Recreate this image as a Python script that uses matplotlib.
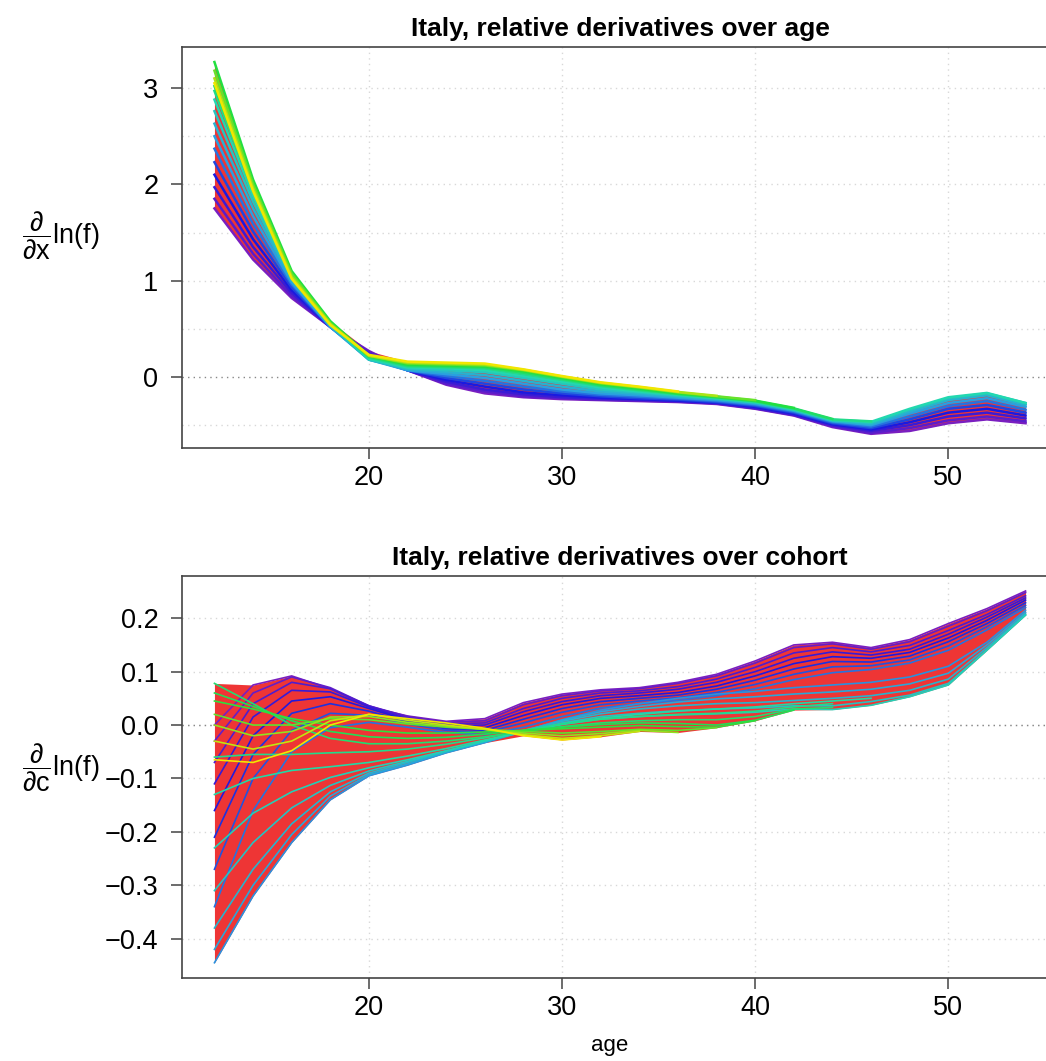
import numpy as np
import matplotlib
matplotlib.use("Agg")
import matplotlib.pyplot as plt
from matplotlib.colors import LinearSegmentedColormap

plt.rcParams["font.family"] = ["Liberation Sans", "DejaVu Sans"]
plt.rcParams["mathtext.fontset"] = "custom"
plt.rcParams["mathtext.rm"] = "Liberation Sans"
plt.rcParams["mathtext.it"] = "Liberation Sans"
plt.rcParams["mathtext.bf"] = "Liberation Sans:bold"

N = None
ages = [12, 14, 16, 18, 20, 22, 24, 26, 28, 30, 32, 34, 36, 38, 40, 42, 44, 46, 48, 50, 52, 54]

# relative derivative over age, one row per cohort (oldest -> youngest)
age_deriv = [
    [1.75, 1.22, 0.82, 0.52, 0.27, 0.07, -0.08, -0.17, -0.21, -0.23, -0.24, -0.25, -0.26, -0.28, -0.33, -0.40, -0.52, -0.59, -0.56, -0.48, -0.44, -0.48],
    [1.85, 1.28, 0.84, 0.52, 0.26, 0.07, -0.07, -0.15, -0.20, -0.22, -0.235, -0.245, -0.255, -0.275, -0.325, -0.395, -0.51, -0.58, -0.53, -0.45, -0.41, -0.46],
    [1.97, 1.35, 0.87, 0.52, 0.24, 0.07, -0.05, -0.13, -0.18, -0.21, -0.225, -0.235, -0.25, -0.27, -0.32, -0.39, -0.50, -0.56, -0.50, -0.41, -0.37, -0.43],
    [2.10, 1.43, 0.90, 0.52, 0.22, 0.07, -0.03, -0.10, -0.16, -0.19, -0.215, -0.23, -0.245, -0.265, -0.31, -0.38, -0.49, -0.545, -0.47, -0.37, -0.33, -0.40],
    [2.23, 1.51, 0.93, 0.52, 0.20, 0.07, -0.01, -0.07, -0.13, -0.17, -0.20, -0.22, -0.235, -0.26, -0.30, -0.37, -0.48, -0.53, -0.44, -0.33, -0.29, -0.37],
    [2.37, 1.59, 0.96, 0.52, 0.19, 0.07, 0.01, -0.04, -0.10, -0.15, -0.185, -0.205, -0.225, -0.25, -0.29, -0.36, -0.47, -0.515, -0.41, -0.30, -0.25, -0.34],
    [2.50, 1.67, 0.98, 0.52, 0.18, 0.07, 0.03, -0.01, -0.07, -0.13, -0.17, -0.19, -0.215, -0.24, -0.28, -0.35, -0.46, -0.50, -0.38, -0.27, -0.22, -0.31],
    [2.63, 1.75, 1.00, 0.53, 0.18, 0.08, 0.05, 0.02, -0.04, -0.10, -0.15, -0.175, -0.205, -0.23, -0.27, -0.345, -0.455, -0.49, -0.36, -0.24, -0.19, -0.29],
    [2.76, 1.82, 1.02, 0.54, 0.18, 0.09, 0.07, 0.05, -0.01, -0.07, -0.13, -0.16, -0.195, -0.225, -0.265, -0.34, -0.45, -0.475, -0.34, -0.22, -0.17, -0.27],
    [2.88, 1.88, 1.04, 0.55, 0.19, 0.10, 0.09, 0.07, 0.01, -0.05, -0.11, -0.15, -0.185, -0.22, -0.26, -0.335, -0.445, -0.465, -0.33, -0.21, -0.165, -0.27],
    [2.97, 1.93, 1.06, 0.56, 0.20, 0.11, 0.10, 0.09, 0.03, -0.03, -0.095, -0.14, -0.18, -0.215, -0.255, -0.33, -0.44, -0.46, N, N, N, N],
    [3.02, 1.97, 1.08, 0.57, 0.21, 0.12, 0.11, 0.10, 0.045, -0.02, -0.085, -0.13, -0.175, -0.21, -0.25, -0.325, -0.435, N, N, N, N, N],
    [3.27, 2.05, 1.10, 0.58, 0.22, 0.13, 0.12, 0.11, 0.06, -0.01, -0.075, -0.12, -0.17, -0.205, -0.245, -0.32, N, N, N, N, N, N],
    [3.18, 2.00, 1.07, 0.56, 0.22, 0.14, 0.13, 0.12, 0.07, 0.0, -0.065, -0.11, -0.16, -0.20, -0.24, N, N, N, N, N, N, N],
    [3.10, 1.96, 1.04, 0.55, 0.22, 0.15, 0.14, 0.13, 0.075, 0.005, -0.06, -0.105, -0.155, -0.195, N, N, N, N, N, N, N, N],
    [3.05, 1.93, 1.02, 0.54, 0.23, 0.16, 0.15, 0.14, 0.08, 0.01, -0.055, -0.10, -0.15, N, N, N, N, N, N, N, N, N],
]

# relative derivative over cohort, one row per cohort (oldest -> youngest)
cohort_deriv = [
    [0.00, 0.075, 0.092, 0.068, 0.034, 0.017, 0.007, 0.012, 0.042, 0.058, 0.066, 0.07, 0.08, 0.095, 0.12, 0.15, 0.155, 0.145, 0.16, 0.19, 0.218, 0.251],
    [-0.03, 0.06, 0.09, 0.07, 0.036, 0.016, 0.005, 0.008, 0.038, 0.055, 0.064, 0.068, 0.078, 0.092, 0.116, 0.145, 0.152, 0.142, 0.156, 0.185, 0.214, 0.248],
    [-0.07, 0.04, 0.08, 0.068, 0.036, 0.014, 0.002, 0.004, 0.031, 0.05, 0.06, 0.064, 0.072, 0.086, 0.108, 0.135, 0.145, 0.137, 0.149, 0.177, 0.207, 0.242],
    [-0.11, 0.015, 0.065, 0.062, 0.034, 0.011, -0.001, 0.0, 0.025, 0.044, 0.055, 0.06, 0.067, 0.08, 0.1, 0.125, 0.137, 0.131, 0.142, 0.17, 0.202, 0.238],
    [-0.16, -0.02, 0.045, 0.053, 0.031, 0.009, -0.004, -0.005, 0.018, 0.038, 0.05, 0.055, 0.061, 0.073, 0.092, 0.115, 0.128, 0.125, 0.136, 0.163, 0.196, 0.234],
    [-0.21, -0.055, 0.022, 0.04, 0.026, 0.006, -0.007, -0.01, 0.011, 0.031, 0.044, 0.05, 0.056, 0.067, 0.084, 0.105, 0.119, 0.118, 0.129, 0.156, 0.19, 0.229],
    [-0.27, -0.10, -0.01, 0.022, 0.018, 0.002, -0.01, -0.014, 0.004, 0.024, 0.038, 0.045, 0.051, 0.061, 0.076, 0.095, 0.109, 0.111, 0.122, 0.148, 0.184, 0.224],
    [-0.34, -0.16, -0.05, -0.005, 0.005, -0.004, -0.014, -0.018, -0.004, 0.016, 0.032, 0.04, 0.046, 0.055, 0.068, 0.085, 0.098, 0.104, 0.116, 0.14, 0.178, 0.22],
    [-0.445, -0.32, -0.22, -0.14, -0.095, -0.075, -0.052, -0.033, -0.012, 0.01, 0.028, 0.04, 0.05, 0.058, 0.063, 0.07, 0.075, 0.08, 0.09, 0.11, 0.155, 0.215],
    [-0.42, -0.30, -0.205, -0.133, -0.093, -0.073, -0.051, -0.032, -0.011, 0.009, 0.025, 0.035, 0.043, 0.049, 0.053, 0.058, 0.062, 0.067, 0.077, 0.097, 0.15, 0.211],
    [-0.38, -0.27, -0.185, -0.125, -0.09, -0.07, -0.05, -0.03, -0.01, 0.007, 0.021, 0.03, 0.036, 0.04, 0.042, 0.046, 0.05, 0.055, 0.065, 0.086, 0.145, 0.208],
    [-0.31, -0.22, -0.155, -0.113, -0.086, -0.068, -0.049, -0.03, -0.012, 0.004, 0.016, 0.022, 0.027, 0.03, 0.032, 0.036, 0.036, 0.044, 0.056, 0.078, 0.141, 0.206],
    [-0.23, -0.165, -0.125, -0.098, -0.08, -0.065, -0.048, -0.03, -0.013, 0.001, 0.011, 0.016, 0.019, 0.021, 0.024, 0.03, 0.029, 0.037, 0.053, 0.075, 0.14, 0.206],
    [-0.13, -0.10, -0.085, -0.078, -0.07, -0.058, -0.044, -0.028, -0.012, 0.002, 0.013, 0.02, 0.026, 0.03, 0.034, 0.04, 0.045, 0.05, N, N, N, N],
    [-0.06, -0.055, -0.055, -0.052, -0.05, -0.045, -0.036, -0.024, -0.01, 0.002, 0.011, 0.016, 0.02, 0.022, 0.026, 0.034, 0.04, N, N, N, N, N],
    [0.078, 0.04, 0.0, -0.025, -0.035, -0.035, -0.03, -0.022, -0.012, -0.003, 0.004, 0.008, 0.01, 0.01, 0.016, 0.03, 0.033, N, N, N, N, N],
    [0.06, 0.035, 0.008, -0.012, -0.022, -0.025, -0.023, -0.017, -0.01, -0.004, 0.001, 0.004, 0.003, 0.0, 0.009, 0.028, N, N, N, N, N, N],
    [0.045, 0.03, 0.012, 0.0, -0.01, -0.015, -0.015, -0.013, -0.01, -0.007, -0.004, -0.001, -0.003, -0.004, 0.008, N, N, N, N, N, N, N],
    [0.02, 0.0, 0.0, 0.012, 0.01, 0.002, -0.004, -0.008, -0.012, -0.015, -0.012, -0.008, -0.01, -0.005, N, N, N, N, N, N, N, N],
    [0.0, -0.02, -0.012, 0.015, 0.016, 0.005, -0.002, -0.008, -0.015, -0.02, -0.016, -0.01, -0.014, N, N, N, N, N, N, N, N, N],
    [-0.03, -0.045, -0.03, 0.008, 0.02, 0.009, 0.0, -0.008, -0.018, -0.025, -0.02, -0.012, N, N, N, N, N, N, N, N, N, N],
    [-0.065, -0.07, -0.048, 0.0, 0.02, 0.012, 0.004, -0.006, -0.02, -0.028, -0.022, N, N, N, N, N, N, N, N, N, N, N],
]

top_yticks = [0, 1, 2, 3]
top_grid = [-0.5, 0.5, 1.0, 1.5, 2.0, 2.5, 3.0]
bot_yticks = [-0.4, -0.3, -0.2, -0.1, 0.0, 0.1, 0.2]
xticks = [20, 30, 40, 50]

FILL = "#EE3535"
cmap = LinearSegmentedColormap.from_list(
    "coh", ["#7A1FC0", "#1A1AE0", "#2A9FE0", "#22D8B0", "#22E040", "#F2E600"])

W, H = 1046, 1061
fig = plt.figure(figsize=(W / 100, H / 100), dpi=100)

# the plotting region runs past the right edge of the picture (cropped),
# so the axes stop at the figure edge with a matching x range
PX_PER_YEAR = 876 / 45.36
X_LEFT = 10.32
X_RIGHT = X_LEFT + (W - 182) / PX_PER_YEAR
TITLE_X = (620 - 182) / (W - 182)


def panel(rect, rows, ylim, yticks, ylabels, hgrid, title, lw):
    ax = fig.add_axes(rect)
    arr = np.array(rows, dtype=float)
    x = np.array(ages, dtype=float)
    ax.set_xlim(X_LEFT, X_RIGHT)
    ax.set_ylim(*ylim)
    for g in hgrid:
        ax.axhline(g, color="#D8D8D8", lw=1, ls=(0, (1, 3)), zorder=0)
    for g in xticks:
        ax.axvline(g, color="#D8D8D8", lw=1, ls=(0, (1, 3)), zorder=0)
    ax.axhline(0, color="#888888", lw=1, ls=(0, (1, 3)), zorder=0.5)
    lo = np.nanmin(arr, axis=0)
    hi = np.nanmax(arr, axis=0)
    ax.fill_between(x, lo, hi, color=FILL, lw=0, zorder=1)
    n = len(arr)
    for i, row in enumerate(arr):
        ax.plot(x, row, color=cmap(i / (n - 1)), lw=lw, zorder=2)
    ax.set_xticks(xticks)
    ax.set_xticklabels([str(t) for t in xticks])
    ax.set_yticks(yticks)
    ax.set_yticklabels(ylabels)
    ax.tick_params(labelsize=19.5, length=8, width=1.1, color="#444444")
    ax.tick_params(axis="x", pad=4.5)
    ax.tick_params(axis="y", pad=9)
    for s in ax.spines.values():
        s.set_color("#444444")
        s.set_linewidth(1.2)
    ax.spines["right"].set_visible(False)
    ax.set_title(title, fontsize=19, fontweight="bold", pad=8, x=TITLE_X)
    return ax


ax1 = panel([182 / W, 1 - 448 / H, (W - 182) / W, 401 / H], age_deriv,
            (-0.737, 3.426), top_yticks, ["0", "1", "2", "3"], top_grid,
            "Italy, relative derivatives over age", 1.8)
ax2 = panel([182 / W, 1 - 977.7 / H, (W - 182) / W, 402 / H], cohort_deriv,
            (-0.473, 0.2796), bot_yticks,
            ["\u22120.4", "\u22120.3", "\u22120.2", "\u22120.1", "0.0", "0.1", "0.2"],
            bot_yticks, "Italy, relative derivatives over cohort", 1.2)

fig.text(61 / W, 1 - 236 / H, r"$\dfrac{\partial}{\partial x}\mathrm{ln(f)}$",
         fontsize=19.5, ha="center", va="center")
fig.text(61 / W, 1 - 768 / H, r"$\dfrac{\partial}{\partial c}\mathrm{ln(f)}$",
         fontsize=19.5, ha="center", va="center")
fig.text(610 / W, 1 - 1045 / H, "age", fontsize=16, ha="center", va="center")

fig.savefig("out.png", dpi=100)
